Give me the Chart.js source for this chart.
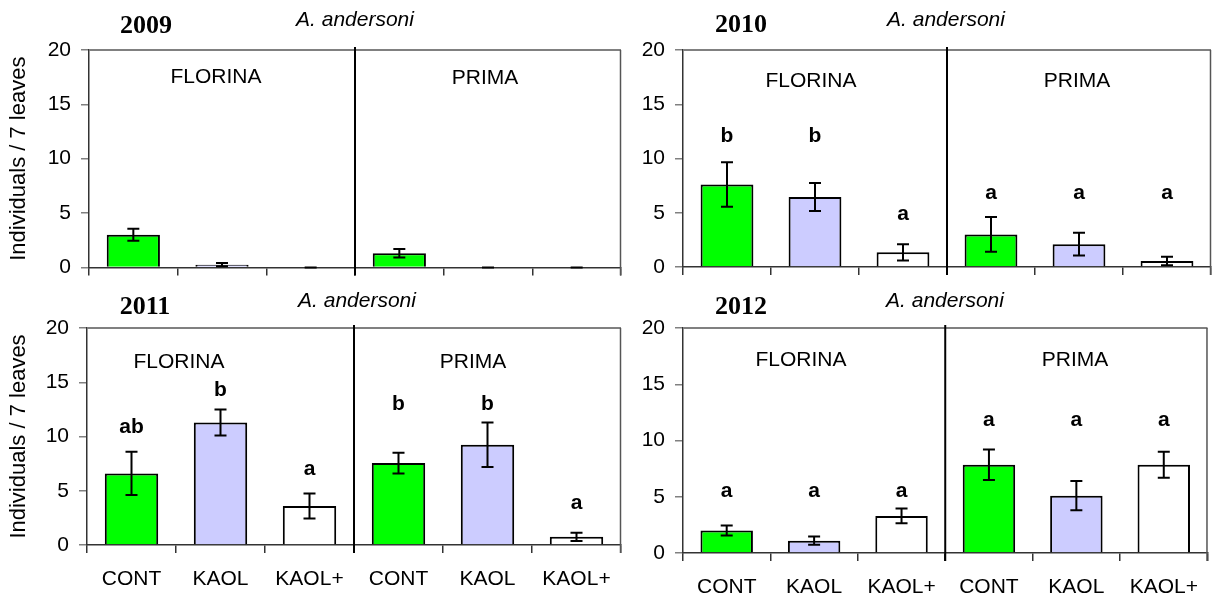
<!DOCTYPE html>
<html>
<head>
<meta charset="utf-8">
<script src="https://cdn.jsdelivr.net/npm/chart.js@4"></script>
<style>
  html, body { margin: 0; padding: 0; background: #ffffff; }
  body { width: 1212px; height: 596px; position: relative; overflow: hidden; }
  canvas { position: absolute; }
</style>
</head>
<body>
<canvas id="c2009" width="625" height="290" style="left:0px;top:0px"></canvas>
<canvas id="c2010" width="587" height="290" style="left:625px;top:0px"></canvas>
<canvas id="c2011" width="625" height="306" style="left:0px;top:290px"></canvas>
<canvas id="c2012" width="587" height="306" style="left:625px;top:290px"></canvas>
<script>
// ---- data ----
const categories = ['CONT', 'KAOL', 'KAOL+', 'CONT', 'KAOL', 'KAOL+'];
const cultivars = ['FLORINA', 'PRIMA'];
const species = 'A. andersoni';
const yTitle = 'Individuals / 7 leaves';
const yMin = 0, yMax = 20, yStep = 5;

const mean2009 = [3.0, 0.25, 0, 1.3, 0, 0];
const err2009  = [0.55, 0.15, 0, 0.4, 0, 0];
const letters2009 = [];
const letterAt2009 = [];

const mean2010 = [7.6, 6.45, 1.35, 3.0, 2.1, 0.55];
const err2010  = [2.05, 1.3, 0.75, 1.6, 1.05, 0.4];
const letters2010 = ['b', 'b', 'a', 'a', 'a', 'a'];
const letterAt2010 = [11.5, 11.5, 4.3, 6.25, 6.25, 6.25];

const mean2011 = [6.6, 11.3, 3.6, 7.55, 9.25, 0.75];
const err2011  = [2.0, 1.2, 1.15, 0.95, 2.05, 0.37];
const letters2011 = ['ab', 'b', 'a', 'b', 'b', 'a'];
const letterAt2011 = [10.3, 13.7, 6.45, 12.45, 12.45, 3.3];

const mean2012 = [2.0, 1.1, 3.3, 7.85, 5.1, 7.85];
const err2012  = [0.45, 0.37, 0.65, 1.35, 1.3, 1.15];
const letters2012 = ['a', 'a', 'a', 'a', 'a', 'a'];
const letterAt2012 = [4.98, 4.98, 4.98, 11.26, 11.26, 11.26];

// ---- styling / layout ----
const treatmentColors = ['#00ff00', '#ccccff', '#ffffff'];
const SANS = '"Liberation Sans", Arial, sans-serif';
const SERIF = '"Liberation Serif", "Times New Roman", serif';

const panels = [
  { id: 'c2009', year: '2009', mean: mean2009, err: err2009, letters: letters2009, letterAt: letterAt2009,
    cx: 0, cy: 0, w: 625, h: 290, area: { l: 89, t: 50, r: 621, b: 271 },
    showYTitle: true, showX: false, yearPos: [146, 26], speciesPos: [355, 20],
    cultPos: [[216, 77], [485, 78]] },
  { id: 'c2010', year: '2010', mean: mean2010, err: err2010, letters: letters2010, letterAt: letterAt2010,
    cx: 625, cy: 0, w: 587, h: 290, area: { l: 683, t: 50, r: 1211, b: 267 },
    showYTitle: false, showX: false, yearPos: [741, 25], speciesPos: [946, 20],
    cultPos: [[811, 81], [1077, 81]] },
  { id: 'c2011', year: '2011', mean: mean2011, err: err2011, letters: letters2011, letterAt: letterAt2011,
    cx: 0, cy: 290, w: 625, h: 306, area: { l: 87, t: 328, r: 621, b: 545 },
    showYTitle: true, showX: true, yearPos: [145, 307], speciesPos: [357, 301],
    cultPos: [[179, 362], [473, 362]] },
  { id: 'c2012', year: '2012', mean: mean2012, err: err2012, letters: letters2012, letterAt: letterAt2012,
    cx: 625, cy: 290, w: 587, h: 306, area: { l: 683, t: 328, r: 1211, b: 553 },
    showYTitle: false, showX: true, yearPos: [741, 307], speciesPos: [945, 301],
    cultPos: [[801, 360], [1075, 360]] }
];

function makePlugin(p) {
  return {
    id: 'extras' + p.year,
    afterDatasetsDraw(chart) {
      const ctx = chart.ctx;
      const ys = chart.scales.y;
      const ca = chart.chartArea;
      const meta = chart.getDatasetMeta(0);
      ctx.save();
      // frame: top and right borders
      ctx.strokeStyle = '#808080';
      ctx.lineWidth = 2;
      ctx.beginPath();
      ctx.moveTo(ca.left, ca.top);
      ctx.lineTo(ca.right, ca.top);
      ctx.stroke();
      ctx.lineWidth = 1.5;
      ctx.strokeStyle = '#555555';
      ctx.beginPath();
      ctx.moveTo(ca.right - 0.5, ca.top);
      ctx.lineTo(ca.right - 0.5, ca.bottom + 8);
      ctx.stroke();
      // divider between cultivars
      const xs = chart.scales.x;
      const midX = (xs.getPixelForValue(2) + xs.getPixelForValue(3)) / 2;
      ctx.strokeStyle = '#000000';
      ctx.lineWidth = 2;
      ctx.beginPath();
      ctx.moveTo(midX, ca.top - 3);
      ctx.lineTo(midX, ca.bottom + 8);
      ctx.stroke();
      // error bars
      ctx.lineWidth = 2;
      meta.data.forEach((bar, i) => {
        const m = p.mean[i], e = p.err[i];
        const yT = ys.getPixelForValue(m + e);
        const yB = ys.getPixelForValue(Math.max(m - e, 0));
        const x = bar.x;
        ctx.beginPath();
        ctx.moveTo(x, yT); ctx.lineTo(x, yB);
        ctx.moveTo(x - 6, yT); ctx.lineTo(x + 6, yT);
        ctx.moveTo(x - 6, yB); ctx.lineTo(x + 6, yB);
        ctx.stroke();
      });
      // significance letters
      ctx.fillStyle = '#000000';
      ctx.font = 'bold 21px ' + SANS;
      ctx.textAlign = 'center';
      ctx.textBaseline = 'alphabetic';
      p.letters.forEach((t, i) => {
        const x = meta.data[i].x;
        ctx.fillText(t, x, ys.getPixelForValue(p.letterAt[i]));
      });
      // cultivar labels
      ctx.font = '21px ' + SANS;
      ctx.textBaseline = 'middle';
      cultivars.forEach((c, k) => {
        ctx.fillText(c, p.cultPos[k][0] - p.cx, p.cultPos[k][1] - p.cy);
      });
      // year
      ctx.font = 'bold 26px ' + SERIF;
      ctx.fillText(p.year, p.yearPos[0] - p.cx, p.yearPos[1] - p.cy);
      // species
      ctx.font = 'italic 21px ' + SANS;
      ctx.fillText(species, p.speciesPos[0] - p.cx, p.speciesPos[1] - p.cy);
      ctx.restore();
    }
  };
}

panels.forEach(p => {
  const yWidth = p.area.l - p.cx;
  const padTop = p.area.t - p.cy;
  const padRight = p.cx + p.w - p.area.r;
  const xHeight = p.cy + p.h - p.area.b;
  new Chart(document.getElementById(p.id), {
    type: 'bar',
    data: {
      labels: categories,
      datasets: [{
        data: p.mean,
        backgroundColor: categories.map((c, i) => treatmentColors[i % 3]),
        borderColor: '#000000',
        borderWidth: 2,
        borderSkipped: 'start',
        barPercentage: 0.6,
        categoryPercentage: 1.0
      }]
    },
    options: {
      responsive: false,
      devicePixelRatio: 1,
      animation: false,
      events: [],
      layout: { padding: { top: padTop, right: padRight, left: 0, bottom: 0 } },
      plugins: { legend: { display: false }, tooltip: { enabled: false }, title: { display: false } },
      scales: {
        x: {
          type: 'category',
          offset: true,
          grid: { offset: true, drawOnChartArea: false, drawTicks: true, tickLength: 8, color: '#333333', lineWidth: 1.5 },
          border: { display: true, color: '#333333', width: 1.5 },
          ticks: {
            display: p.showX,
            autoSkip: false, maxRotation: 0, minRotation: 0,
            color: '#000000', padding: 14,
            font: { family: SANS, size: 21 }
          },
          afterFit: s => { s.height = xHeight; }
        },
        y: {
          min: yMin, max: yMax,
          grid: { drawOnChartArea: false, drawTicks: true, tickLength: 8, color: '#808080', lineWidth: 1.5 },
          border: { display: true, color: '#333333', width: 1.5 },
          ticks: { stepSize: yStep, color: '#000000', padding: 10, font: { family: SANS, size: 21 } },
          title: {
            display: p.showYTitle, text: yTitle, color: '#000000',
            font: { family: SANS, size: 22 }, padding: { top: 6, bottom: 0 }
          },
          afterFit: s => { s.width = yWidth; }
        }
      }
    },
    plugins: [makePlugin(p)]
  });
});
</script>
</body>
</html>
